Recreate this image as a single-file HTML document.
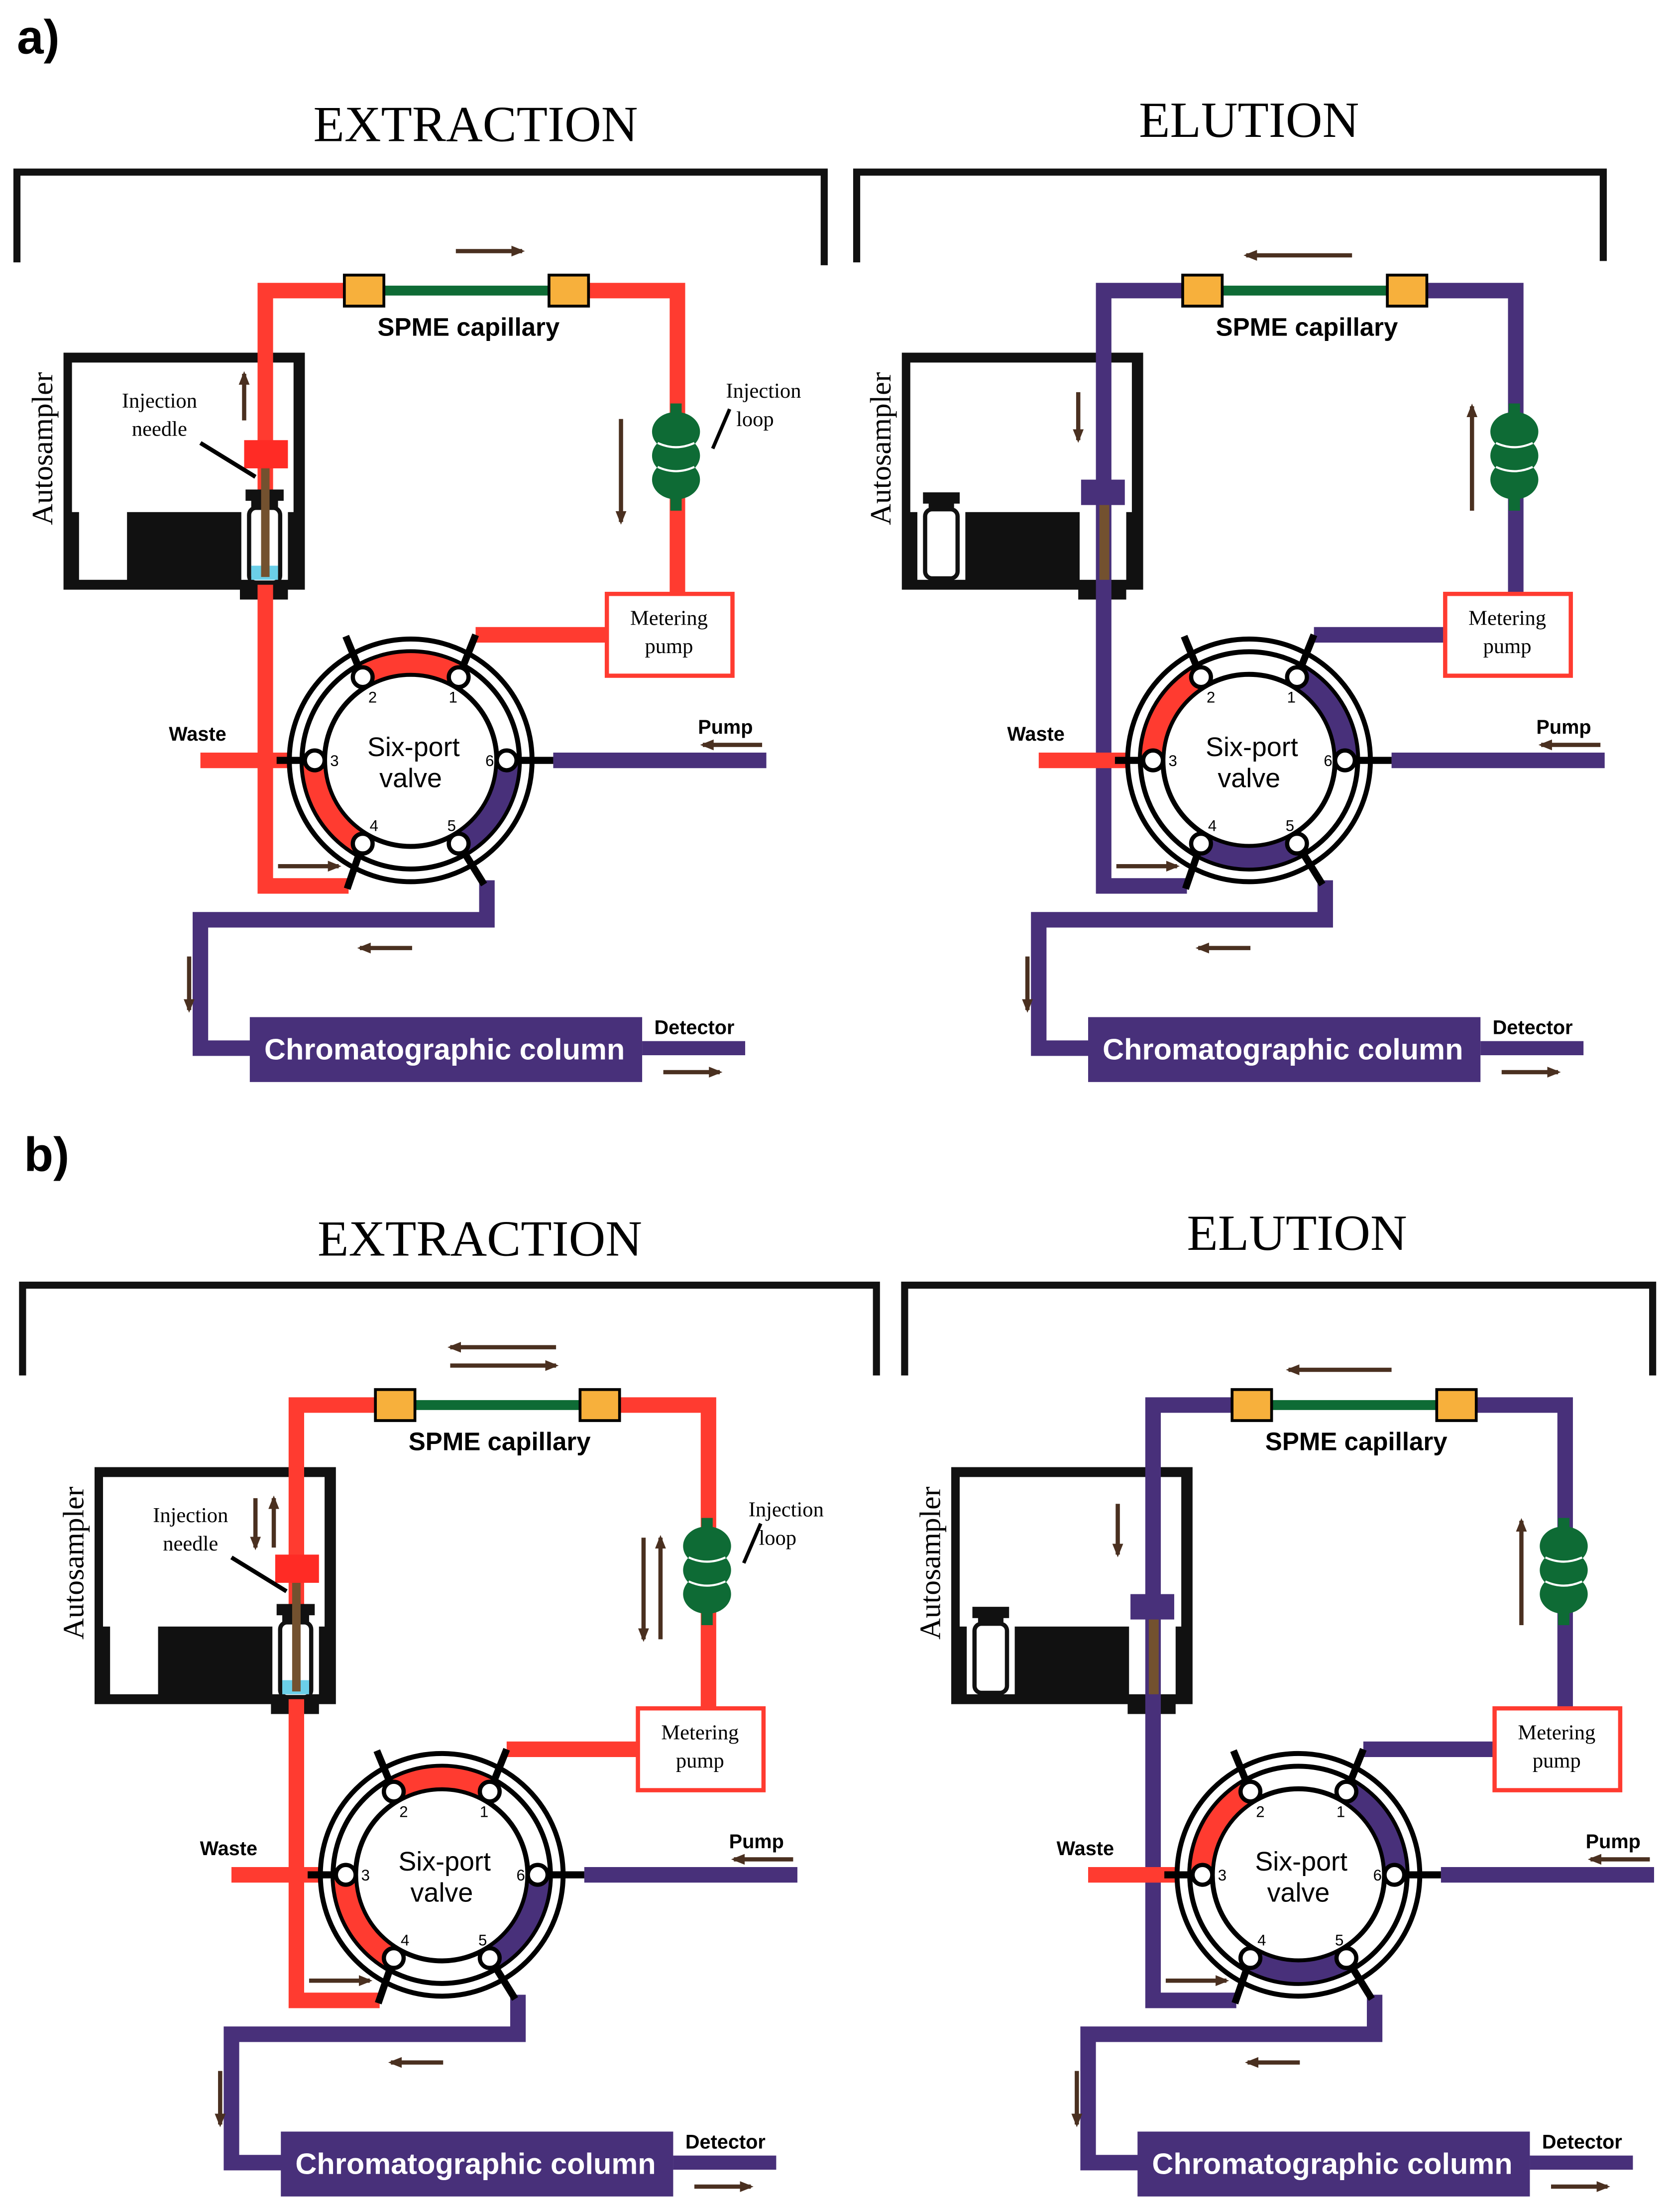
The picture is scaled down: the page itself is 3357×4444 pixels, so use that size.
<!DOCTYPE html>
<html><head><meta charset="utf-8"><style>
html,body{margin:0;padding:0;background:#fff}
svg{display:block}
.s{font-family:"Liberation Sans",sans-serif;font-weight:bold}
.r{font-family:"Liberation Serif",serif}
</style></head><body>
<svg width="3357" height="4444" viewBox="0 0 1184 1568" preserveAspectRatio="none" xmlns="http://www.w3.org/2000/svg">
<defs>
<marker id="ah" viewBox="0 0 10 10" refX="8" refY="5" markerWidth="3.2" markerHeight="3.2" orient="auto"><path d="M0,1 L10,5 L0,9 Z" fill="#4a3020"/></marker>
<g id="valve">
  <circle cx="291" cy="539" r="86" fill="#fff" stroke="#000" stroke-width="3.5"/>
  <circle cx="291" cy="539" r="77" fill="#fff" stroke="#000" stroke-width="3.5"/>
  <circle cx="291" cy="539" r="61" fill="#fff" stroke="#000" stroke-width="3.5"/>
</g>
<g id="ports">
  <g stroke="#000" stroke-width="5">
    <line x1="325" y1="480" x2="337" y2="450"/>
    <line x1="257" y1="480" x2="245" y2="451"/>
    <line x1="223" y1="539" x2="196" y2="539"/>
    <line x1="359" y1="539" x2="392" y2="539"/>
    <line x1="257" y1="598" x2="246" y2="630"/>
    <line x1="325" y1="598" x2="343" y2="627"/>
  </g>
  <g fill="#fff" stroke="#000" stroke-width="3">
    <circle cx="325" cy="480" r="7"/><circle cx="257" cy="480" r="7"/>
    <circle cx="223" cy="539" r="7"/><circle cx="359" cy="539" r="7"/>
    <circle cx="257" cy="598" r="7"/><circle cx="325" cy="598" r="7"/>
  </g>
</g>
<g id="loop" fill="#0e6b35">
  <rect x="475" y="286" width="8" height="76"/>
  <ellipse cx="479" cy="306" rx="17" ry="14"/>
  <ellipse cx="479" cy="323" rx="17" ry="14"/>
  <ellipse cx="479" cy="340" rx="17" ry="14"/>
  <g fill="none" stroke="#fff" stroke-width="1.5"><path d="M466,314 Q479,320 492,314"/><path d="M466,331 Q479,337 492,331"/></g>
</g>
<g id="spme">
  <line x1="272" y1="206" x2="389" y2="206" stroke="#0e6b35" stroke-width="7"/>
  <rect x="244" y="195" width="28" height="22" fill="#f7b03c" stroke="#000" stroke-width="2"/>
  <rect x="389" y="195" width="28" height="22" fill="#f7b03c" stroke="#000" stroke-width="2"/>
</g>
<g id="autobox">
  <rect x="45" y="250" width="171" height="168" fill="#111"/>
  <rect x="51" y="257" width="157" height="106" fill="#fff"/>
  <rect x="56" y="362" width="34" height="49" fill="#fff"/>
  <rect x="171" y="362" width="33" height="49" fill="#fff"/>
  <rect x="170" y="416" width="34" height="9" fill="#111"/>
</g>
<g id="bottom">
  <path d="M345,624 V652 H142 V743 H180" fill="none" stroke="#48307a" stroke-width="11"/>
  <rect x="177" y="721" width="278" height="46" fill="#48307a"/>
  <line x1="455" y1="743" x2="528" y2="743" stroke="#48307a" stroke-width="10"/>
  <line x1="392" y1="539" x2="543" y2="539" stroke="#48307a" stroke-width="11"/>
  <line x1="142" y1="539" x2="205" y2="539" stroke="#ff3b30" stroke-width="11"/>
  <rect x="430" y="421" width="89" height="58" fill="#fff" stroke="#ff3b30" stroke-width="3"/>
</g>
<g id="ext">
  <use href="#autobox"/>
  <path d="M247,628 H188 V206 H246 M416,206 H480 V421 M337,450 H430" fill="none" stroke="#ff3b30" stroke-width="11"/>
  <use href="#spme"/>
  <use href="#loop"/>
  <use href="#bottom"/>
  <rect x="174" y="347" width="27" height="8" fill="#111"/>
  <rect x="178" y="354" width="19" height="7" fill="#111"/>
  <rect x="176.5" y="360" width="22" height="53" rx="5" fill="#fff" stroke="#111" stroke-width="3"/>
  <rect x="178" y="401" width="19" height="10" fill="#6bcfe8"/>
  <rect x="185" y="330" width="6" height="79" fill="#73512f"/>
  <rect x="173" y="312" width="31" height="20" fill="#ff2b25"/>
  <line x1="142" y1="314" x2="181" y2="338" stroke="#000" stroke-width="3"/>
  <use href="#valve"/>
  <g fill="none" stroke-width="14">
    <path d="M256.5,479.2 A69,69 0 0 1 325.5,479.2" stroke="#ff3b30"/>
    <path d="M222,539 A69,69 0 0 0 256.5,598.8" stroke="#ff3b30"/>
    <path d="M325.5,598.8 A69,69 0 0 0 360,539" stroke="#48307a"/>
  </g>
  <use href="#ports"/>
  <line x1="505" y1="318" x2="517" y2="290" stroke="#000" stroke-width="2.5"/>
</g>
<g id="elu">
  <use href="#autobox"/>
  <path d="M247,628 H188 V206 H246 M416,206 H480 V421 M337,450 H430" fill="none" stroke="#48307a" stroke-width="11"/>
  <use href="#spme"/>
  <use href="#loop"/>
  <use href="#bottom"/>
  <rect x="60" y="349" width="26" height="8" fill="#111"/>
  <rect x="64" y="356" width="18" height="6" fill="#111"/>
  <rect x="61.5" y="361" width="23" height="49" rx="5" fill="#fff" stroke="#111" stroke-width="3"/>
  <rect x="185" y="356" width="7" height="55" fill="#73512f"/>
  <rect x="172" y="340" width="31" height="18" fill="#48307a"/>
  <use href="#valve"/>
  <g fill="none" stroke-width="14">
    <path d="M256.5,479.2 A69,69 0 0 0 222,539" stroke="#ff3b30"/>
    <path d="M325.5,479.2 A69,69 0 0 1 360,539" stroke="#48307a"/>
    <path d="M256.5,598.8 A69,69 0 0 0 325.5,598.8" stroke="#48307a"/>
  </g>
  <use href="#ports"/>
</g>
</defs>

<rect width="1184" height="1568" fill="#fff"/>

<text x="12" y="38" class="s" font-size="34">a)</text>
<text x="17" y="830" class="s" font-size="34">b)</text>

<g fill="none" stroke="#111" stroke-width="5">
  <path d="M12,186 V122 H584 V188"/>
  <path d="M607,186 V122 H1136 V185"/>
  <path d="M16,975 V911 H621 V975"/>
  <path d="M641,975 V911 H1171 V975"/>
</g>
<g class="r" font-size="36" text-anchor="middle">
  <text x="337" y="100">EXTRACTION</text>
  <text x="885" y="97">ELUTION</text>
  <text x="340" y="890">EXTRACTION</text>
  <text x="919" y="886">ELUTION</text>
</g>

<g>
  <use href="#ext"/>
  <g stroke="#4a3020" stroke-width="3" marker-end="url(#ah)">
    <line x1="323" y1="178" x2="370" y2="178"/>
    <line x1="173" y1="298" x2="173" y2="265"/>
    <line x1="440" y1="297" x2="440" y2="370"/>
  </g>
  <text x="113" y="289" class="r" font-size="15" text-anchor="middle">Injection</text>
  <text x="113" y="309" class="r" font-size="15" text-anchor="middle">needle</text>
  <text x="541" y="282" class="r" font-size="15" text-anchor="middle">Injection</text>
  <text x="535" y="302" class="r" font-size="15" text-anchor="middle">loop</text>
</g>
<g transform="translate(594,0)">
  <use href="#elu"/>
  <g stroke="#4a3020" stroke-width="3" marker-end="url(#ah)">
    <line x1="364" y1="181" x2="289" y2="181"/>
    <line x1="170" y1="278" x2="170" y2="312"/>
    <line x1="449" y1="362" x2="449" y2="288"/>
  </g>
</g>
<g transform="translate(22,790)">
  <use href="#ext"/>
  <g stroke="#4a3020" stroke-width="3" marker-end="url(#ah)">
    <line x1="372" y1="165" x2="297" y2="165"/>
    <line x1="297" y1="178" x2="372" y2="178"/>
    <line x1="159" y1="272" x2="159" y2="307"/>
    <line x1="172" y1="307" x2="172" y2="272"/>
    <line x1="434" y1="300" x2="434" y2="372"/>
    <line x1="446" y1="372" x2="446" y2="300"/>
  </g>
  <text x="113" y="289" class="r" font-size="15" text-anchor="middle">Injection</text>
  <text x="113" y="309" class="r" font-size="15" text-anchor="middle">needle</text>
  <text x="535" y="285" class="r" font-size="15" text-anchor="middle">Injection</text>
  <text x="529" y="305" class="r" font-size="15" text-anchor="middle">loop</text>
</g>
<g transform="translate(629,790)">
  <use href="#elu"/>
  <g stroke="#4a3020" stroke-width="3" marker-end="url(#ah)">
    <line x1="357" y1="181" x2="284" y2="181"/>
    <line x1="163" y1="276" x2="163" y2="312"/>
    <line x1="449" y1="362" x2="449" y2="288"/>
  </g>
</g>

<g>
  <g stroke="#4a3020" stroke-width="3" marker-end="url(#ah)">
    <line x1="197" y1="614" x2="240" y2="614"/><line x1="292" y1="672" x2="255" y2="672"/>
    <line x1="134" y1="678" x2="134" y2="716"/><line x1="470" y1="760" x2="510" y2="760"/>
    <line x1="540" y1="528" x2="498" y2="528"/>
  </g>
  <text x="332" y="238" class="s" font-size="18" text-anchor="middle">SPME capillary</text>
  <text x="474" y="443" class="r" font-size="15" text-anchor="middle">Metering</text>
  <text x="474" y="463" class="r" font-size="15" text-anchor="middle">pump</text>
  <text x="293" y="536" class="s" font-size="19" text-anchor="middle" style="font-weight:normal">Six-port</text>
  <text x="291" y="558" class="s" font-size="19" text-anchor="middle" style="font-weight:normal">valve</text>
  <g class="s" font-size="11" style="font-weight:normal" text-anchor="middle">
    <text x="321" y="498">1</text><text x="264" y="498">2</text><text x="237" y="543">3</text>
    <text x="347" y="543">6</text><text x="265" y="589">4</text><text x="320" y="589">5</text>
  </g>
  <text x="140" y="525" class="s" font-size="14" text-anchor="middle">Waste</text>
  <text x="514" y="520" class="s" font-size="14" text-anchor="middle">Pump</text>
  <text x="492" y="733" class="s" font-size="14" text-anchor="middle">Detector</text>
  <text x="315" y="751" class="s" font-size="21" fill="#fff" text-anchor="middle">Chromatographic column</text>
  <text transform="translate(37,318) rotate(-90)" class="r" font-size="21" text-anchor="middle">Autosampler</text>
</g>
<g transform="translate(594,0)">
  <g stroke="#4a3020" stroke-width="3" marker-end="url(#ah)">
    <line x1="197" y1="614" x2="240" y2="614"/><line x1="292" y1="672" x2="255" y2="672"/>
    <line x1="134" y1="678" x2="134" y2="716"/><line x1="470" y1="760" x2="510" y2="760"/>
    <line x1="540" y1="528" x2="498" y2="528"/>
  </g>
  <text x="332" y="238" class="s" font-size="18" text-anchor="middle">SPME capillary</text>
  <text x="474" y="443" class="r" font-size="15" text-anchor="middle">Metering</text>
  <text x="474" y="463" class="r" font-size="15" text-anchor="middle">pump</text>
  <text x="293" y="536" class="s" font-size="19" text-anchor="middle" style="font-weight:normal">Six-port</text>
  <text x="291" y="558" class="s" font-size="19" text-anchor="middle" style="font-weight:normal">valve</text>
  <g class="s" font-size="11" style="font-weight:normal" text-anchor="middle">
    <text x="321" y="498">1</text><text x="264" y="498">2</text><text x="237" y="543">3</text>
    <text x="347" y="543">6</text><text x="265" y="589">4</text><text x="320" y="589">5</text>
  </g>
  <text x="140" y="525" class="s" font-size="14" text-anchor="middle">Waste</text>
  <text x="514" y="520" class="s" font-size="14" text-anchor="middle">Pump</text>
  <text x="492" y="733" class="s" font-size="14" text-anchor="middle">Detector</text>
  <text x="315" y="751" class="s" font-size="21" fill="#fff" text-anchor="middle">Chromatographic column</text>
  <text transform="translate(37,318) rotate(-90)" class="r" font-size="21" text-anchor="middle">Autosampler</text>
</g>
<g transform="translate(22,790)">
  <g stroke="#4a3020" stroke-width="3" marker-end="url(#ah)">
    <line x1="197" y1="614" x2="240" y2="614"/><line x1="292" y1="672" x2="255" y2="672"/>
    <line x1="134" y1="678" x2="134" y2="716"/><line x1="470" y1="760" x2="510" y2="760"/>
    <line x1="540" y1="528" x2="498" y2="528"/>
  </g>
  <text x="332" y="238" class="s" font-size="18" text-anchor="middle">SPME capillary</text>
  <text x="474" y="443" class="r" font-size="15" text-anchor="middle">Metering</text>
  <text x="474" y="463" class="r" font-size="15" text-anchor="middle">pump</text>
  <text x="293" y="536" class="s" font-size="19" text-anchor="middle" style="font-weight:normal">Six-port</text>
  <text x="291" y="558" class="s" font-size="19" text-anchor="middle" style="font-weight:normal">valve</text>
  <g class="s" font-size="11" style="font-weight:normal" text-anchor="middle">
    <text x="321" y="498">1</text><text x="264" y="498">2</text><text x="237" y="543">3</text>
    <text x="347" y="543">6</text><text x="265" y="589">4</text><text x="320" y="589">5</text>
  </g>
  <text x="140" y="525" class="s" font-size="14" text-anchor="middle">Waste</text>
  <text x="514" y="520" class="s" font-size="14" text-anchor="middle">Pump</text>
  <text x="492" y="733" class="s" font-size="14" text-anchor="middle">Detector</text>
  <text x="315" y="751" class="s" font-size="21" fill="#fff" text-anchor="middle">Chromatographic column</text>
  <text transform="translate(37,318) rotate(-90)" class="r" font-size="21" text-anchor="middle">Autosampler</text>
</g>
<g transform="translate(629,790)">
  <g stroke="#4a3020" stroke-width="3" marker-end="url(#ah)">
    <line x1="197" y1="614" x2="240" y2="614"/><line x1="292" y1="672" x2="255" y2="672"/>
    <line x1="134" y1="678" x2="134" y2="716"/><line x1="470" y1="760" x2="510" y2="760"/>
    <line x1="540" y1="528" x2="498" y2="528"/>
  </g>
  <text x="332" y="238" class="s" font-size="18" text-anchor="middle">SPME capillary</text>
  <text x="474" y="443" class="r" font-size="15" text-anchor="middle">Metering</text>
  <text x="474" y="463" class="r" font-size="15" text-anchor="middle">pump</text>
  <text x="293" y="536" class="s" font-size="19" text-anchor="middle" style="font-weight:normal">Six-port</text>
  <text x="291" y="558" class="s" font-size="19" text-anchor="middle" style="font-weight:normal">valve</text>
  <g class="s" font-size="11" style="font-weight:normal" text-anchor="middle">
    <text x="321" y="498">1</text><text x="264" y="498">2</text><text x="237" y="543">3</text>
    <text x="347" y="543">6</text><text x="265" y="589">4</text><text x="320" y="589">5</text>
  </g>
  <text x="140" y="525" class="s" font-size="14" text-anchor="middle">Waste</text>
  <text x="514" y="520" class="s" font-size="14" text-anchor="middle">Pump</text>
  <text x="492" y="733" class="s" font-size="14" text-anchor="middle">Detector</text>
  <text x="315" y="751" class="s" font-size="21" fill="#fff" text-anchor="middle">Chromatographic column</text>
  <text transform="translate(37,318) rotate(-90)" class="r" font-size="21" text-anchor="middle">Autosampler</text>
</g>
</svg>
</body></html>
